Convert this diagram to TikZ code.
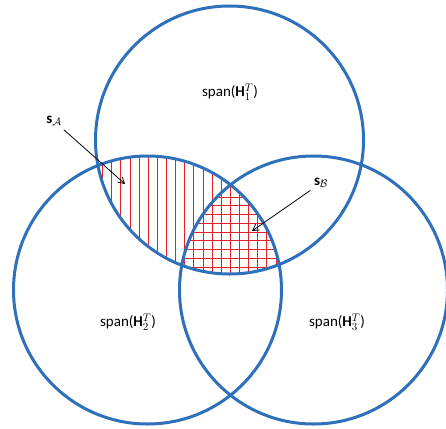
\documentclass[tikz,border=0pt]{standalone}
\usepackage{amsmath}
\usepackage{fontspec}
\setmainfont{Carlito}
\usepackage{tikz}
\usetikzlibrary{arrows.meta}
\definecolor{myblue}{RGB}{46,112,186}
\definecolor{myred}{RGB}{232,30,40}

\begin{document}
\begin{tikzpicture}[x=1pt, y=-1pt, thick, font=\fontsize{15}{18}\selectfont, main/.style = {draw=myblue, circle, line width=3pt, minimum size=268pt, inner sep=0pt}, hatch/.style = {draw=myred, line width=0.9pt}, pointer/.style = {draw=black, line width=0.8pt, -{Straight Barb[length=6pt, width=7pt]}}]
            \useasboundingbox (0,0) rectangle (446,428);
            \coordinate (c1) at (229.5,140);
            \coordinate (c2) at (147.5,290);
            \coordinate (c3) at (313.5,290);
            % hatching: vertical in 1 and 2, horizontal in all three
            \begin{scope}
                \clip (c1) circle (134pt);
                \clip (c2) circle (134pt);
                \foreach \k in {0,...,19}
                    \draw[hatch] ({102.7+9.12*\k},150) -- ({102.7+9.12*\k},280);
                \clip (c3) circle (134pt);
                \foreach \k in {0,...,8}
                    \draw[hatch] (170,{197+8.75*\k}) -- (300,{197+8.75*\k});
            \end{scope}
            \node[main] (1) at (c1) {};
            \node[main] (2) at (c2) {};
            \node[main] (3) at (c3) {};
            \node (l1) at (230,92) {span($\mathbf{H}_1^T$)};
            \node (l2) at (128,322) {span($\mathbf{H}_2^T$)};
            \node (l3) at (337,322) {span($\mathbf{H}_3^T$)};
            \node (sA) at (54,121) {$\mathbf{s}_{\mathcal{A}}$};
            \node (sB) at (321,183) {$\mathbf{s}_{\mathcal{B}}$};
            \coordinate (pA) at (125,184);
            \coordinate (pB) at (252,231);
            \draw[pointer] (sA) -- (pA);
            \draw[pointer] (sB) -- (pB);
        \end{tikzpicture}
\end{document}
